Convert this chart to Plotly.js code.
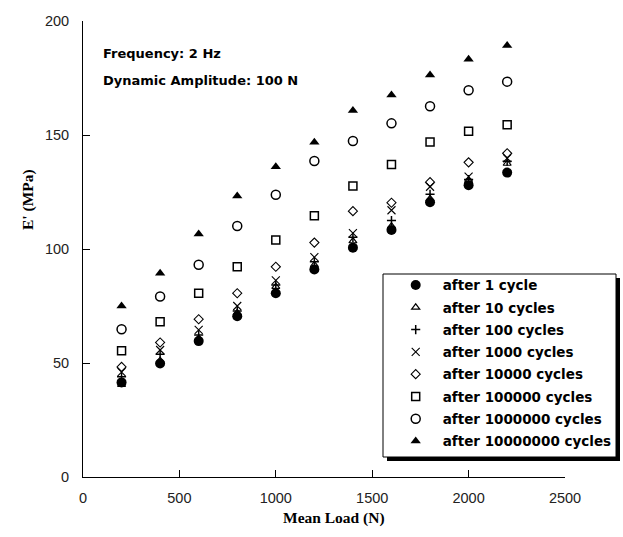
<!DOCTYPE html>
<html>
<head>
<meta charset="utf-8">
<script src="https://cdn.plot.ly/plotly-3.0.1.min.js"></script>
<style>
  html, body { margin: 0; padding: 0; background: #fff; }
  #chart { width: 623px; height: 537px; }
</style>
</head>
<body>
<div id="chart"></div>
<script>
// ---- data ----
const meanLoad = [200, 400, 600, 800, 1000, 1200, 1400, 1600, 1800, 2000, 2200];

const after1cycle        = [41.5, 49.8, 59.6, 70.5, 80.6, 91.0, 100.6, 108.3, 120.5, 128.0, 133.5];
const after10cycles      = [40.5, 51.0, 60.8, 72.0, 83.5, 93.0, 103.5, 110.0, 122.0, 130.0, 137.5];
const after100cycles     = [44.0, 53.8, 62.3, 72.8, 84.2, 94.4, 105.1, 112.5, 124.0, 130.5, 138.5];
const after1000cycles    = [46.0, 55.7, 64.5, 75.0, 86.2, 96.4, 107.0, 117.0, 127.3, 131.7, 139.8];
const after10000cycles   = [48.3, 59.0, 69.2, 80.6, 92.2, 102.8, 116.6, 120.3, 129.3, 138.0, 142.0];
const after100000cycles  = [55.4, 68.1, 80.6, 92.2, 104.0, 114.6, 127.6, 137.1, 146.9, 151.6, 154.5];
const after1000000cycles = [64.8, 79.2, 93.1, 110.1, 123.8, 138.6, 147.4, 155.1, 162.6, 169.6, 173.4];
const after1e7cycles     = [75.0, 89.4, 106.6, 123.2, 136.1, 146.8, 160.7, 167.5, 176.3, 183.2, 189.2];

const seriesNames = [
  'after 1 cycle', 'after 10 cycles', 'after 100 cycles', 'after 1000 cycles',
  'after 10000 cycles', 'after 100000 cycles', 'after 1000000 cycles', 'after 10000000 cycles'
];
const seriesValues = [
  after1cycle, after10cycles, after100cycles, after1000cycles,
  after10000cycles, after100000cycles, after1000000cycles, after1e7cycles
];
const xTickVals = [0, 500, 1000, 1500, 2000, 2500];
const yTickVals = [0, 50, 100, 150, 200];

// ---- styles ----
const markerStyles = [
  {symbol: 'circle',            size: 10, color: '#000', line: {width: 0}},
  {symbol: 'triangle-up-open',  size: 7,  color: '#000', line: {width: 1.2, color: '#000'}},
  {symbol: 'cross-thin-open',   size: 6.5,color: '#000', line: {width: 1.5, color: '#000'}},
  {symbol: 'x-thin-open',       size: 8,  color: '#000', line: {width: 1.1, color: '#000'}},
  {symbol: 'diamond-open',      size: 7,  color: '#000', line: {width: 1.1, color: '#000'}},
  {symbol: 'square-open',       size: 8,  color: '#000', line: {width: 1.5, color: '#000'}},
  {symbol: 'circle-open',       size: 9,  color: '#000', line: {width: 1.5, color: '#000'}},
  {symbol: 'triangle-up',       size: 9,  color: '#000', line: {width: 0}}
];

const traces = seriesNames.map((name, i) => ({
  type: 'scatter',
  mode: 'markers',
  name: name,
  x: meanLoad,
  y: seriesValues[i],
  legendgroup: 'g' + i,
  marker: markerStyles[i],
  cliponaxis: false
}));

const tickFont = {family: '"Liberation Sans", Arial, sans-serif', size: 14.5, color: '#222'};
const titleFont = {family: '"Liberation Serif", "Times New Roman", serif', size: 15.5, color: '#000', weight: 700};
const noteFont = {family: '"DejaVu Sans", sans-serif', size: 13, color: '#000', weight: 700};

// legend box geometry (paper units relative to plot area)
const L = 83, R = 565, T = 21, B = 477;
const px = v => (v - L) / (R - L);
const py = v => (B - v) / (B - T);

const layout = {
  width: 623,
  height: 537,
  margin: {l: L, r: 623 - R, t: T, b: 537 - B, pad: 0, autoexpand: false},
  paper_bgcolor: '#fff',
  plot_bgcolor: '#fff',
  showlegend: true,
  xaxis: {
    range: [0, 2500],
    tickvals: xTickVals,
    ticks: 'inside',
    ticklen: 7,
    tickwidth: 1,
    tickcolor: '#000',
    showline: true,
    linecolor: '#000',
    linewidth: 1,
    showgrid: false,
    zeroline: false,
    tickfont: tickFont,
    ticklabelstandoff: 8,
    automargin: false,
    fixedrange: true
  },
  yaxis: {
    range: [0, 200],
    tickvals: yTickVals,
    ticks: 'inside',
    ticklen: 7,
    tickwidth: 1,
    tickcolor: '#000',
    showline: true,
    linecolor: '#000',
    linewidth: 1,
    showgrid: false,
    zeroline: false,
    tickfont: tickFont,
    ticklabelstandoff: 10,
    automargin: false,
    fixedrange: true
  },
  legend: {
    x: px(388.7),
    y: py(269.7),
    xanchor: 'left',
    yanchor: 'top',
    bgcolor: 'rgba(0,0,0,0)',
    borderwidth: 0,
    itemwidth: 44,
    traceorder: 'grouped',
    tracegroupgap: 1.75,
    font: {family: '"DejaVu Sans", sans-serif', size: 13.5, color: '#000', weight: 700}
  },
  shapes: [
    {type: 'rect', xref: 'paper', yref: 'paper', layer: 'above',
     x0: px(387), x1: px(620), y0: py(461), y1: py(278),
     fillcolor: '#000', line: {width: 0}},
    {type: 'rect', xref: 'paper', yref: 'paper', layer: 'above',
     x0: px(383), x1: px(616), y0: py(457), y1: py(274),
     fillcolor: '#fff', line: {width: 1, color: '#000'}}
  ],
  annotations: [
    {text: 'Frequency: 2 Hz', xref: 'paper', yref: 'paper', x: px(100.5), y: py(54),
     xanchor: 'left', yanchor: 'middle', showarrow: false, font: noteFont},
    {text: 'Dynamic Amplitude: 100 N', xref: 'paper', yref: 'paper', x: px(100.5), y: py(81),
     xanchor: 'left', yanchor: 'middle', showarrow: false, font: noteFont},
    {text: 'Mean Load (N)', xref: 'paper', yref: 'paper', x: px(334), y: py(518),
     xanchor: 'center', yanchor: 'middle', showarrow: false, font: titleFont},
    {text: "E' (MPa)", xref: 'paper', yref: 'paper', x: px(28), y: py(200),
     xanchor: 'center', yanchor: 'middle', textangle: -90, showarrow: false, font: titleFont}
  ]
};

Plotly.newPlot('chart', traces, layout, {displayModeBar: false, staticPlot: true});
</script>
</body>
</html>
